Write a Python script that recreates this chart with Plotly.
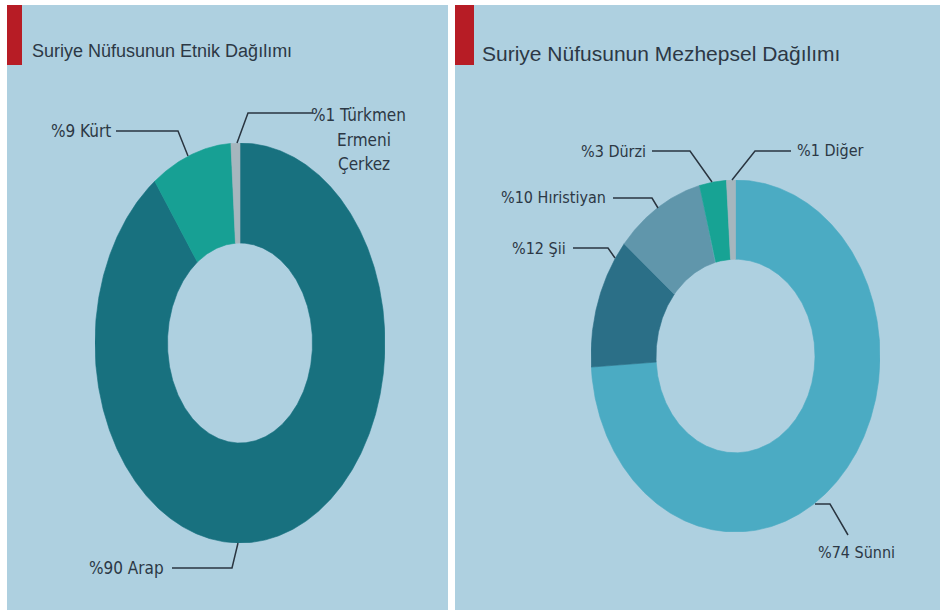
import numpy as np
import plotly.graph_objects as go

# ---------------- data ----------------
ethnic_names = ["Arap", "Kürt", "Türkmen"]
ethnic_values = [90, 9, 1]
ethnic_colors = ["#18717f", "#17a094", "#a6b6be"]
ethnic_extra = ["", "", "Ermeni<br>Çerkez"]

sect_names = ["Sünni", "Şii", "Hıristiyan", "Dürzi", "Diğer"]
sect_values = [74, 12, 10, 3, 1]
sect_colors = ["#4babc3", "#2b6f87", "#6096ab", "#17a394", "#a6b6be"]

titles = ["Suriye Nüfusunun Etnik Dağılımı", "Suriye Nüfusunun Mezhepsel Dağılımı"]

W, H = 940, 610
BG = "#aed0e0"
RED = "#b71c25"
TXT = "#2c3845"
LBL_FONT = "DejaVu Sans Condensed, Liberation Sans Narrow, Roboto, sans-serif"
TTL_FONT = "Liberation Sans, Arial, sans-serif"

fig = go.Figure()


def donut_traces(values, colors, hole, xa, ya):
    total = float(sum(values))
    cum = np.cumsum([0] + list(values)) / total * 2 * np.pi
    for i, c in enumerate(colors):
        a0, a1 = cum[i], cum[i + 1]
        n = max(int(np.degrees(a1 - a0)) * 2, 4)
        t = np.linspace(a0, a1, n)
        xo, yo = np.sin(t), np.cos(t)
        xi, yi = hole * np.sin(t[::-1]), hole * np.cos(t[::-1])
        fig.add_trace(go.Scatter(
            x=np.concatenate([xo, xi, xo[:1]]),
            y=np.concatenate([yo, yi, yo[:1]]),
            fill="toself", fillcolor=c, mode="lines",
            line=dict(color=c, width=0.6),
            hoverinfo="skip", showlegend=False,
            xaxis=xa, yaxis=ya))


donut_traces(ethnic_values, ethnic_colors, 0.5, "x", "y")
donut_traces(sect_values, sect_colors, 0.55, "x2", "y2")


def px(x):
    return x / W


def py(y):
    return 1 - y / H


def pyd(top, bottom):
    return [py(bottom), py(top)]


ax_common = dict(range=[-1, 1], visible=False, fixedrange=True)
fig.update_layout(
    width=W, height=H,
    margin=dict(l=0, r=0, t=0, b=0),
    paper_bgcolor="white", plot_bgcolor="rgba(0,0,0,0)",
    xaxis=dict(domain=[px(95), px(385)], anchor="y", **ax_common),
    yaxis=dict(domain=pyd(143, 543), anchor="x", **ax_common),
    xaxis2=dict(domain=[px(591), px(880)], anchor="y2", **ax_common),
    yaxis2=dict(domain=pyd(180, 532), anchor="x2", **ax_common),
)

shapes = []


def rect(x0, x1, y0, y1, color):
    shapes.append(dict(type="rect", xref="paper", yref="paper",
                       x0=px(x0), x1=px(x1), y0=py(y1), y1=py(y0),
                       fillcolor=color, line=dict(width=0), layer="below"))


rect(7, 448, 5, H, BG)
rect(455, W, 5, H, BG)
rect(7, 22, 5, 65, RED)
rect(455, 474, 5, 65, RED)

annotations = []
annotations.append(dict(text=titles[0], xref="paper", yref="paper", x=px(30), y=py(51),
                        xanchor="left", yanchor="middle", showarrow=False,
                        font=dict(family=TTL_FONT, size=18, color=TXT)))
annotations.append(dict(text=titles[1], xref="paper", yref="paper", x=px(480), y=py(53),
                        xanchor="left", yanchor="middle", showarrow=False,
                        font=dict(family=TTL_FONT, size=21, color=TXT)))


def leader(pts):
    path = "M " + " L ".join(f"{px(x)},{py(y)}" for x, y in pts)
    shapes.append(dict(type="path", xref="paper", yref="paper", path=path,
                       line=dict(color="#2a3540", width=1.5), layer="above"))


def label(text, x, y, anchor, size):
    annotations.append(dict(text=text, xref="paper", yref="paper", x=px(x), y=py(y),
                            xanchor=anchor, yanchor="middle", showarrow=False,
                            align="center",
                            font=dict(family=LBL_FONT, size=size, color=TXT)))


def lab(v, n):
    return f"%{v} {n}"


# ethnic labels
label(lab(ethnic_values[0], ethnic_names[0]), 166, 568, "right", 17)
leader([(172, 568), (232, 568), (238, 543)])
label(lab(ethnic_values[1], ethnic_names[1]), 113, 131, "right", 17)
leader([(116, 131), (178, 131), (188, 156)])
label(lab(ethnic_values[2], ethnic_names[2]), 358, 115, "center", 17)
for k, line in enumerate(ethnic_extra[2].split("<br>")):
    label(line, 364, 140 + 24 * k, "center", 17)
leader([(313, 113), (248, 113), (237, 143)])

# sect labels
label(lab(sect_values[0], sect_names[0]), 816, 552, "left", 16)
leader([(815, 504), (830, 504), (848, 535)])
label(lab(sect_values[1], sect_names[1]), 568, 248, "right", 16)
leader([(573, 248), (608, 248), (615, 258)])
label(lab(sect_values[2], sect_names[2]), 608, 198, "right", 16)
leader([(613, 198), (652, 198), (658, 208)])
label(lab(sect_values[3], sect_names[3]), 648, 151, "right", 16)
leader([(652, 151), (690, 151), (712, 182)])
label(lab(sect_values[4], sect_names[4]), 795, 150, "left", 16)
leader([(791, 151), (755, 151), (732, 180)])

fig.update_layout(shapes=shapes, annotations=annotations)
fig.write_html("out.html", config={"displayModeBar": False},
               post_script="document.body.style.margin='0';")
